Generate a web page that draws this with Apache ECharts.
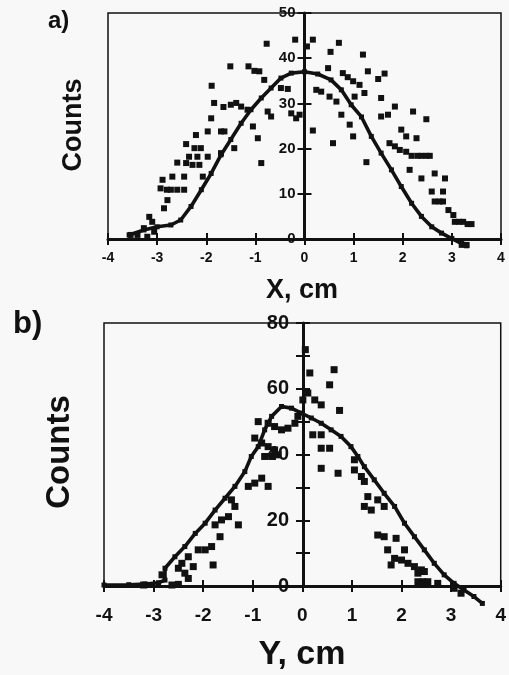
<!DOCTYPE html>
<html>
<head>
<meta charset="utf-8">
<script src="https://cdn.jsdelivr.net/npm/echarts@6/dist/echarts.min.js"></script>
<style>html,body{margin:0;padding:0;background:#f8f8f8;}#c{width:509px;height:675px;}</style>
</head>
<body>
<div id="c"></div>
<script>
// ---- Panel a) : X profile ----
var xTicksA = [-4,-3,-2,-1,0,1,2,3,4];
var yTicksA = [0,10,20,30,40,50];
var curveA = [
  [-3.57,0.9],[-3.27,2.0],[-3.0,2.7],[-2.72,3.1],[-2.52,4.2],[-2.31,7.2],[-2.1,10.9],[-1.9,14.5],
  [-1.7,18.6],[-1.5,22.0],[-1.29,25.6],[-1.09,28.6],[-0.88,31.2],[-0.68,33.4],[-0.48,35.6],[-0.27,36.7],
  [0.0,37.0],[0.27,36.5],[0.54,35.2],[0.75,33.0],[0.95,29.7],[1.16,27.0],[1.36,22.7],[1.56,19.0],
  [1.77,15.3],[1.97,11.6],[2.18,7.9],[2.38,5.0],[2.59,2.7],[2.79,1.3],[3.0,0.1],[3.2,-1.0],[3.3,-1.5]
];
var scatterA = [
  [-0.77,43.2],[-0.19,44.1],[0.17,44.1],[0.05,42.6],[0.70,43.4],[0.53,41.4],[1.19,40.8],
  [-1.51,38.2],[-1.14,38.2],[-1.02,37.2],[-0.92,37.1],[-0.82,35.2],[0.48,37.8],
  [0.78,36.7],[0.88,35.8],[0.99,34.9],[1.12,34.1],[1.29,37.1],[1.50,35.4],[1.63,36.6],
  [-1.89,33.9],[-0.48,33.4],[-0.34,33.2],[0.24,33.0],[0.34,32.6],[0.51,31.5],[0.65,30.4],
  [1.02,31.5],[1.22,32.3],[1.56,31.2],[1.84,29.3],[1.70,27.5],[1.56,27.1],
  [-1.84,30.1],[-1.65,29.2],[-1.50,29.7],[-1.39,30.1],[-1.29,29.3],[-1.16,28.6],
  [-0.75,28.2],[-0.68,27.1],[-0.27,27.8],[-0.17,26.7],[-0.10,27.5],[2.21,28.2],[2.48,26.5],
  [0.75,27.5],[0.92,25.3],[-1.90,26.7],[-1.05,24.9],[-1.97,23.8],[-1.70,23.8],[-1.63,23.8],
  [-2.21,23.0],[0.17,24.0],[1.97,24.2],[2.07,22.7],[2.28,22.3],[-0.95,22.3],
  [-2.41,21.0],[-2.24,20.1],[-2.11,20.1],[-1.43,20.1],[0.58,21.2],[0.99,22.7],
  [1.73,21.2],[1.84,20.5],[1.94,19.7],[2.07,19.3],[2.18,18.4],[2.30,18.4],[2.38,18.4],[2.48,18.4],[2.55,18.4],
  [-2.35,18.2],[-2.18,18.2],[-1.97,18.2],[-2.59,16.9],[-2.41,16.8],[-2.28,16.4],[-2.14,16.4],
  [-1.70,19.0],[-0.88,16.8],[1.26,17.0],[2.14,15.3],
  [-2.89,13.1],[-2.69,13.8],[-2.45,13.8],[-2.07,13.8],[2.38,13.4],[2.65,14.5],[2.86,13.4],
  [-2.93,11.2],[-2.80,10.9],[-2.72,10.9],[-2.59,10.9],[-2.45,10.9],[2.59,10.5],[2.82,10.5],
  [2.65,8.3],[2.75,8.3],[2.82,8.3],[-2.79,8.6],[-2.86,6.8],
  [2.93,6.4],[3.03,5.3],[3.06,3.8],[3.15,3.8],[3.23,3.8],[3.32,3.3],[3.40,3.3],
  [3.20,-1.3],[3.30,-1.3],[-3.16,4.9],[-3.10,3.8],[-3.27,2.4],[-3.06,1.6],[-3.54,0.9],[-3.40,0.9],[-3.20,0.5]
];

// ---- Panel b) : Y profile ----
var xTicksB = [-4,-3,-2,-1,0,1,2,3,4];
var yLabelsB = [0,20,40,60,80];
var curveB = [
  [-4.0,0.3],[-3.5,0.4],[-3.17,0.6],[-2.9,1.0],[-2.77,1.8],[-2.77,5.4],[-2.57,8.9],[-2.37,12.0],
  [-2.16,16.0],[-1.96,19.1],[-1.76,23.1],[-1.56,26.7],[-1.36,30.3],[-1.16,34.8],[-1.03,39.4],
  [-0.89,42.4],[-0.76,47.5],[-0.62,51.6],[-0.42,54.6],[-0.22,54.1],[-0.02,52.6],[0.18,51.1],
  [0.38,49.5],[0.58,47.5],[0.78,45.5],[0.98,42.4],[1.12,39.4],[1.25,36.3],[1.45,32.3],[1.65,28.2],
  [1.86,24.2],[2.06,19.1],[2.26,15.0],[2.46,11.0],[2.66,6.9],[2.86,3.4],[3.06,0.8],[3.26,-1.2],
  [3.46,-3.2],[3.63,-5.3]
];
var scatterB = [
  [0.06,71.9],[0.15,64.8],[0.64,65.8],[0.55,61.2],[0.01,56.6],[0.11,58.7],[0.25,56.6],[0.38,55.1],
  [0.75,53.4],[-0.89,50.0],[-0.69,49.5],[-0.56,48.5],[-0.42,47.5],[-0.29,48.0],[-0.15,49.5],[-0.09,51.6],
  [0.21,46.0],[0.38,46.0],[-0.96,45.0],[-0.82,43.5],[-0.69,42.4],[-0.56,41.4],
  [-0.76,39.4],[-0.62,39.4],[-0.49,39.9],[0.38,41.9],[0.55,41.9],[0.38,35.8],[0.72,34.3],
  [1.05,38.4],[1.05,35.3],[1.19,33.3],[1.25,31.8],[-1.09,30.3],[-0.96,31.3],[-0.82,32.8],[-0.69,30.3],
  [1.32,27.2],[1.25,24.2],[1.39,23.1],[1.52,26.2],[1.65,24.2],
  [-1.43,26.2],[-1.36,24.2],[-1.49,21.1],[-1.63,20.1],[-1.76,18.6],[-1.29,18.6],
  [-1.66,15.0],[-1.83,12.0],[-1.96,11.0],[-2.10,11.0],[-2.30,8.9],[-2.43,6.9],[-2.50,5.4],[-2.37,3.9],[-2.30,2.3],
  [-1.80,6.4],[-2.20,5.9],[1.52,15.5],[1.65,15.0],[1.72,11.0],[1.79,6.4],
  [1.86,8.4],[2.00,7.9],[2.13,6.9],[2.26,5.9],[2.40,4.9],[1.89,14.5],[2.06,11.0],
  [2.33,3.9],[2.46,4.4],[2.33,1.3],[2.43,1.3],[2.53,1.3],[2.73,0.8],[3.06,-0.7],[3.20,-2.2],
  [-2.83,3.4],[-2.63,0.3],[-3.20,0.3],[-2.50,0.5]
];

var FONT = '"Liberation Sans", Arial, Helvetica, sans-serif';
var INK = '#111';
var GA = {left: 108, top: 13, width: 393, height: 226};
var GB = {left: 104, top: 323, width: 398, height: 263};
var chart = echarts.init(document.getElementById('c'), null, {renderer: 'canvas'});

function xAx(gi, fs, margin, show) {
  return {
    type: 'value', gridIndex: gi, min: xTicksA[0], max: xTicksA[xTicksA.length - 1], interval: 1,
    position: 'bottom', offset: 0,
    axisLine: {show: show, onZero: false, lineStyle: {color: INK, width: 3}},
    axisTick: {show: true, inside: !show, length: 6, lineStyle: {color: INK, width: 2}},
    axisLabel: {show: show, margin: margin, color: INK, fontSize: fs, fontWeight: 'bold', fontFamily: FONT},
    splitLine: {show: false}
  };
}
function yAx(gi, max, fs, margin, show, labelStep, offset) {
  return {
    type: 'value', gridIndex: gi, min: 0, max: max, interval: 10, position: 'left', offset: offset,
    axisLine: {show: show, onZero: false, lineStyle: {color: INK, width: 3}},
    axisTick: {show: true, inside: !show, length: 7, lineStyle: {color: INK, width: 2}},
    axisLabel: {show: show, margin: margin, color: INK, fontSize: fs, fontWeight: 'bold', fontFamily: FONT,
      formatter: function (v) { return (v % labelStep === 0) ? String(v) : ''; }},
    splitLine: {show: false}
  };
}

var offA = -GA.width / 2, offB = -GB.width / 2;
var option = {
  backgroundColor: '#f8f8f8',
  animation: false,
  grid: [
    {left: GA.left, top: GA.top, width: GA.width, height: GA.height, show: true, borderColor: INK, borderWidth: 1.5, backgroundColor: 'transparent'},
    {left: GB.left, top: GB.top, width: GB.width, height: GB.height, show: true, borderColor: INK, borderWidth: 1.5, backgroundColor: 'transparent'}
  ],
  xAxis: [
    xAx(0, 14, 12, true), xAx(0, 14, 12, false),
    xAx(1, 19, 20, true), xAx(1, 19, 20, false)
  ],
  yAxis: [
    yAx(0, 50, 15, 9, true, 10, offA), yAx(0, 50, 15, 9, false, 10, offA),
    yAx(1, 80, 20, 14, true, 20, offB), yAx(1, 80, 20, 14, false, 20, offB)
  ],
  series: [
    {type: 'line', xAxisIndex: 0, yAxisIndex: 0, data: curveA, showSymbol: true, symbol: 'rect', symbolSize: 5,
      itemStyle: {color: INK, opacity: 1}, lineStyle: {color: INK, width: 3.6}, clip: false, z: 3},
    {type: 'scatter', xAxisIndex: 0, yAxisIndex: 0, data: scatterA, symbol: 'rect', symbolSize: [6, 6],
      itemStyle: {color: INK, opacity: 1}, clip: false, z: 4},
    {type: 'line', xAxisIndex: 2, yAxisIndex: 2, data: curveB, showSymbol: true, symbol: 'rect', symbolSize: 5,
      itemStyle: {color: INK, opacity: 1}, lineStyle: {color: INK, width: 3.6}, clip: false, z: 3},
    {type: 'scatter', xAxisIndex: 2, yAxisIndex: 2, data: scatterB, symbol: 'rect', symbolSize: [7, 7],
      itemStyle: {color: INK, opacity: 1}, clip: false, z: 4}
  ],
  graphic: [
    {type: 'text', left: 48, top: 9, style: {text: 'a)', fill: INK, font: 'bold 24px ' + FONT}},
    {type: 'text', left: 13, top: 309, style: {text: 'b)', fill: INK, font: 'bold 31px ' + FONT}},
    {type: 'text', x: 74, y: 125, rotation: Math.PI / 2,
      style: {text: 'Counts', fill: INK, font: 'bold 27px ' + FONT, align: 'center', verticalAlign: 'middle'}},
    {type: 'text', x: 60, y: 452, rotation: Math.PI / 2,
      style: {text: 'Counts', fill: INK, font: 'bold 33px ' + FONT, align: 'center', verticalAlign: 'middle'}},
    {type: 'text', x: 302, y: 291,
      style: {text: 'X, cm', fill: INK, font: 'bold 27px ' + FONT, align: 'center', verticalAlign: 'middle'}},
    {type: 'text', x: 302, y: 655,
      style: {text: 'Y, cm', fill: INK, font: 'bold 34px ' + FONT, align: 'center', verticalAlign: 'middle'}}
  ]
};
chart.setOption(option);
</script>
</body>
</html>
